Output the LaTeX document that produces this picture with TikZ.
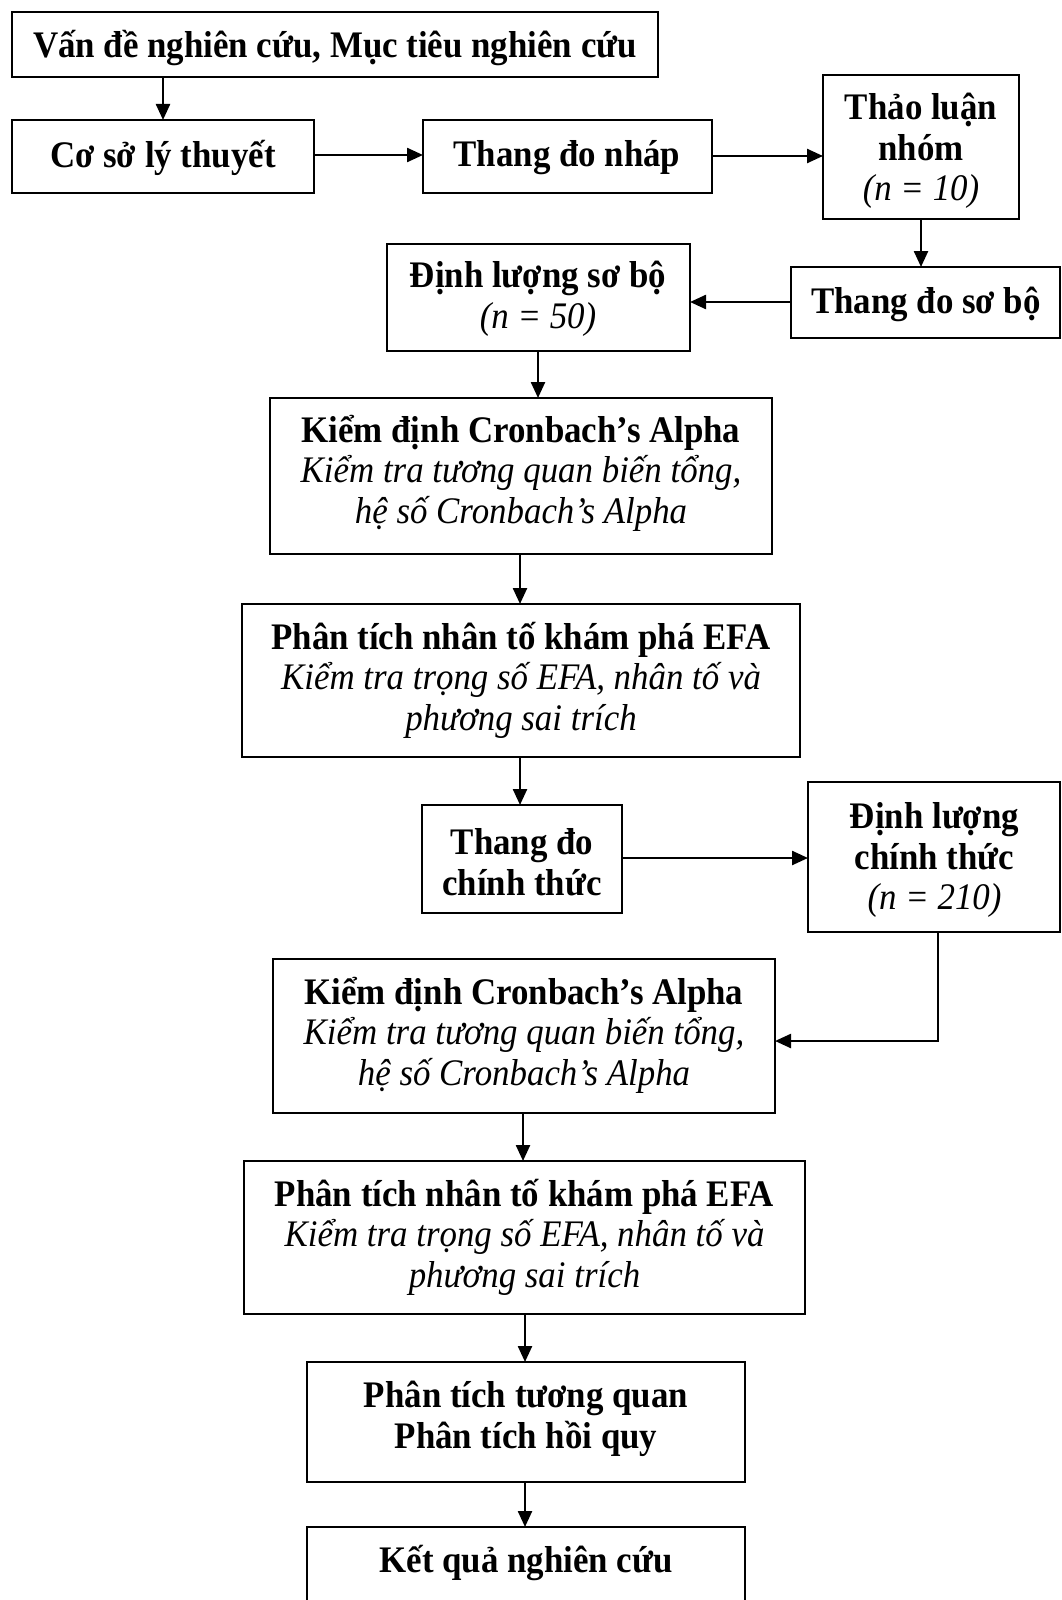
\documentclass[tikz,border=0pt]{standalone}
\usepackage{fontspec}
\setmainfont{Liberation Serif}[FakeStretch=0.93]
\usetikzlibrary{arrows.meta}
\newcommand\mkbox[5]{\node[box, minimum width={(#4-#2)*1pt}, minimum height={(#5-#3)*1pt}] (#1) at ({(#2+#4)/2},{(#3+#5)/2}) {};}
\begin{document}
\begin{tikzpicture}[x=1pt,y=-1pt,
 box/.style={draw, line width=2pt, rectangle, inner sep=0pt, outer sep=0pt},
 txt/.style={align=center, font=\fontsize{37.5}{40.5}\selectfont, inner sep=0pt},
 arr/.style={line width=2.4pt, -{Triangle[length=16pt,width=14pt]}}]
\useasboundingbox (0,0) rectangle (1061,1600);
\clip (0,0) rectangle (1061,1600);
\fill[white] (0,0) rectangle (1061,1600);
\mkbox{b1}{12}{12}{658}{77.5}
\mkbox{b2}{12}{120}{314}{193}
\mkbox{b3}{423}{120}{712}{193}
\mkbox{b4}{823}{75.5}{1019}{219}
\mkbox{b5}{791}{267}{1060}{338}
\mkbox{b6}{387}{244}{690}{351}
\mkbox{b7}{270}{398}{772}{554}
\mkbox{b8}{242}{604}{800}{757}
\mkbox{b9}{422}{805}{622}{913}
\mkbox{b10}{808}{782}{1060}{932}
\mkbox{b11}{273}{959}{775}{1113}
\mkbox{b12}{244}{1161}{805}{1314}
\mkbox{b13}{307}{1362}{745}{1482}
\mkbox{b14}{307}{1527}{745}{1640}
\node[txt] (t1) at (335,48) {\textbf{Vấn đề nghiên cứu, Mục tiêu nghiên cứu}};
\node[txt] (t2) at (163,158) {\textbf{Cơ sở lý thuyết}};
\node[txt] (t3) at (567,158) {\textbf{Thang đo nháp}};
\node[txt] (t4) at (921,151) {\textbf{Thảo luận}\\\textbf{nhóm}\\\textit{(n = 10)}};
\node[txt] (t5) at (926,304) {\textbf{Thang đo sơ bộ}};
\node[txt] (t6) at (538,299) {\textbf{Định lượng sơ bộ}\\\textit{(n = 50)}};
\node[txt] (t7) at (521,473) {\textbf{Kiểm định Cronbach’s Alpha}\\\textit{Kiểm tra tương quan biến tổng,}\\\textit{hệ số Cronbach’s Alpha}};
\node[txt] (t8) at (521,680) {\textbf{Phân tích nhân tố khám phá EFA}\\\textit{Kiểm tra trọng số EFA, nhân tố và}\\\textit{phương sai trích}};
\node[txt] (t9) at (522,862) {\textbf{Thang đo}\\\textbf{chính thức}};
\node[txt] (t10) at (934.5,860) {\textbf{Định lượng}\\\textbf{chính thức}\\\textit{(n = 210)}};
\node[txt] (t11) at (524,1035) {\textbf{Kiểm định Cronbach’s Alpha}\\\textit{Kiểm tra tương quan biến tổng,}\\\textit{hệ số Cronbach’s Alpha}};
\node[txt] (t12) at (524.5,1237) {\textbf{Phân tích nhân tố khám phá EFA}\\\textit{Kiểm tra trọng số EFA, nhân tố và}\\\textit{phương sai trích}};
\node[txt] (t13) at (526,1419) {\textbf{Phân tích tương quan}\\\textbf{Phân tích hồi quy}};
\node[txt] (t14) at (526,1563) {\textbf{Kết quả nghiên cứu}};
\draw[arr] (b1.south -| 163,0) -- (b2.north -| 163,0);
\draw[arr] (b2.east |- 0,155) -- (b3.west |- 0,155);
\draw[arr] (b3.east |- 0,156) -- (b4.west |- 0,156);
\draw[arr] (b4.south -| 921,0) -- (b5.north -| 921,0);
\draw[arr] (b5.west |- 0,302) -- (b6.east |- 0,302);
\draw[arr] (b6.south -| 538,0) -- (b7.north -| 538,0);
\draw[arr] (b7.south -| 520,0) -- (b8.north -| 520,0);
\draw[arr] (b8.south -| 520,0) -- (b9.north -| 520,0);
\draw[arr] (b9.east |- 0,858) -- (b10.west |- 0,858);
\coordinate (bend) at (938,1041);
\draw[arr] (b10.south -| bend) -- (bend) -- (b11.east |- bend);
\draw[arr] (b11.south -| 523,0) -- (b12.north -| 523,0);
\draw[arr] (b12.south -| 525,0) -- (b13.north -| 525,0);
\draw[arr] (b13.south -| 525,0) -- (b14.north -| 525,0);
\end{tikzpicture}
\end{document}
